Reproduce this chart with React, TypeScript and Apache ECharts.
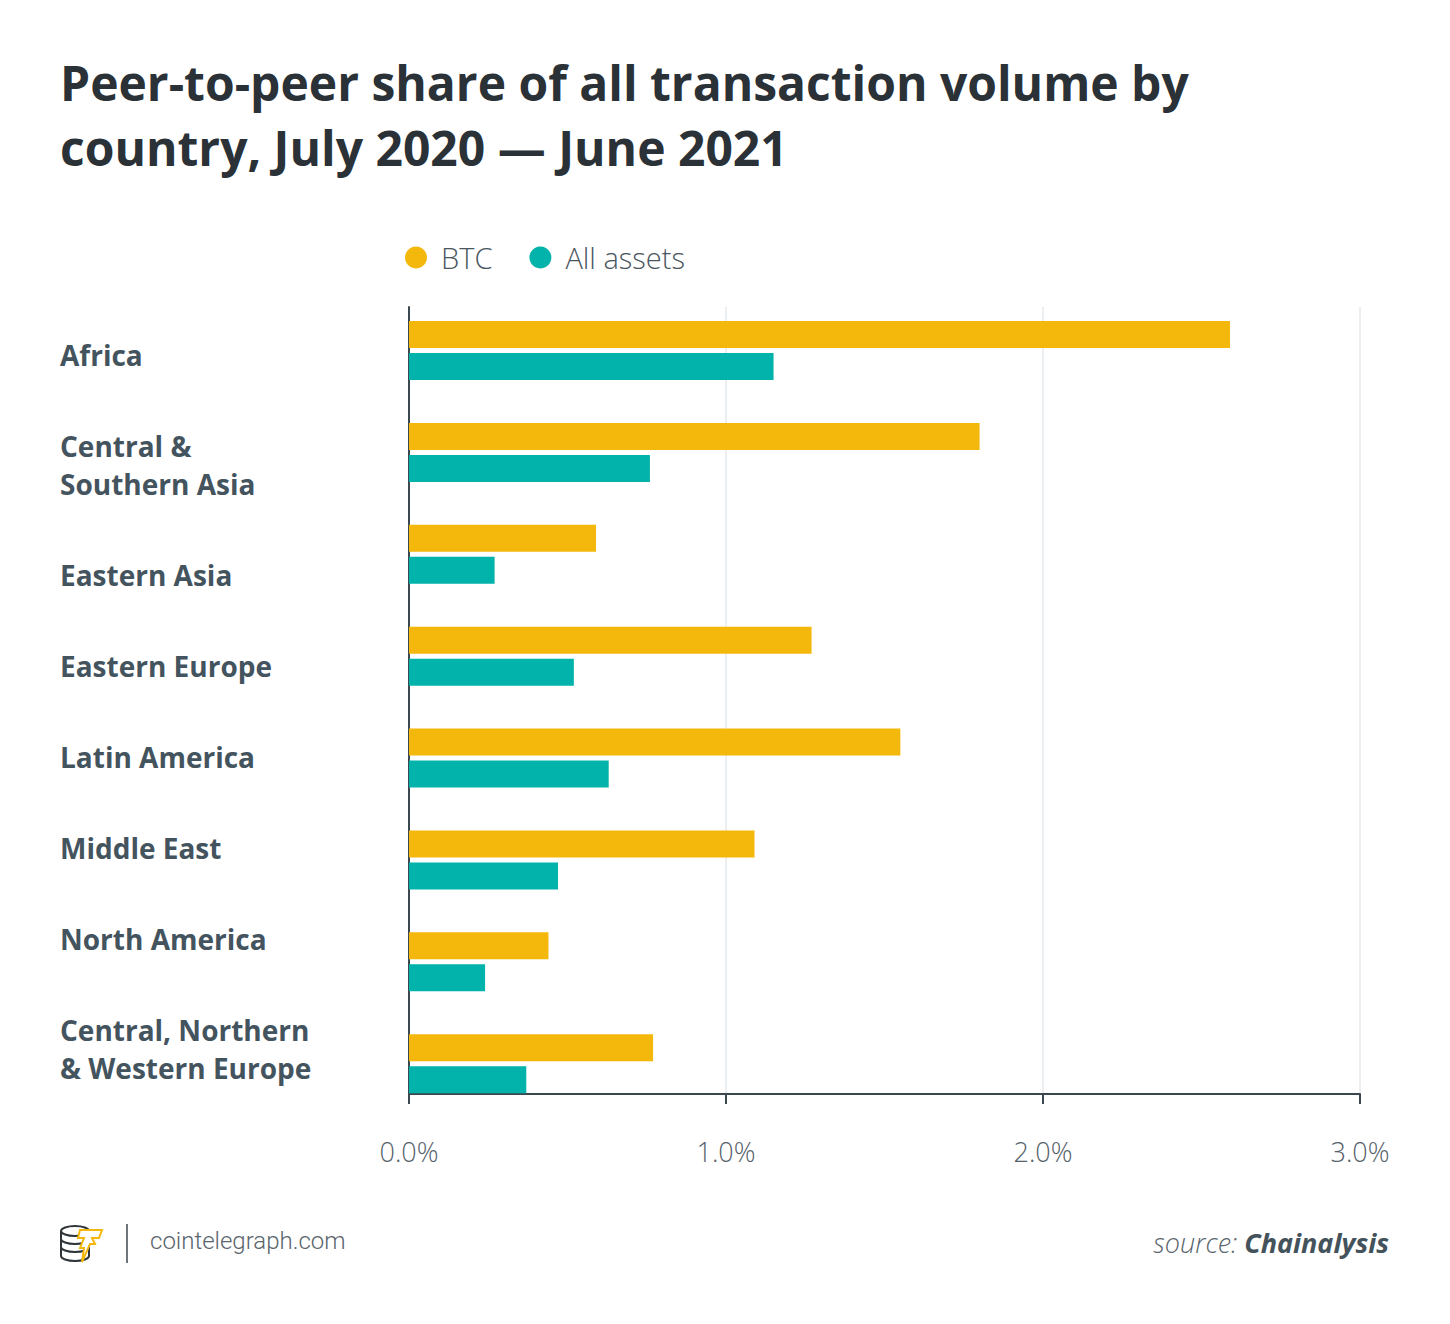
import React, { useEffect, useRef } from "react";
import * as echarts from "echarts";

// ---- data ----
const categories = [
  "Africa",
  "Central &\nSouthern Asia",
  "Eastern Asia",
  "Eastern Europe",
  "Latin America",
  "Middle East",
  "North America",
  "Central, Northern\n& Western Europe",
];
const seriesNames = ["BTC", "All assets"];
const btcValues = [2.59, 1.8, 0.59, 1.27, 1.55, 1.09, 0.44, 0.77];
const allAssetsValues = [1.15, 0.76, 0.27, 0.52, 0.63, 0.47, 0.24, 0.37];
const xMin = 0;
const xMax = 3;
const xInterval = 1;

// ---- layout constants ----
const W = 1450;
const H = 1324;
const LABEL_CENTER_Y = [356, 466, 576, 667, 758, 849, 940, 1050];
const YELLOW = "#F3B80B";
const TEAL = "#01B3AA";
const DARK = "#3b4850";

export default function App() {
  const ref = useRef<HTMLDivElement>(null);

  useEffect(() => {
    document.body.style.margin = "0";
    if (!ref.current) return;
    const chart = echarts.init(ref.current, null, { renderer: "svg" });

    const coinPath =
      "M1 6 A14 5 0 1 0 29 6 A14 5 0 1 0 1 6 M1 6 L1 31 M29 6 L29 31 M1 14 A14 5 0 0 0 29 14 M1 22 A14 5 0 0 0 29 22 M1 31 A14 5 0 0 0 29 31";
    echarts.graphic.registerShape("coinstack", echarts.graphic.extendPath(coinPath, {}) as any);

    const labelTexts = categories.map((c, i) => ({
      type: "text",
      left: 60,
      top: LABEL_CENTER_Y[i] - (c.includes("\n") ? 39 : 20),
      style: {
        text: c,
        font: "bold 28px 'Open Sans'",
        fill: "#44545e",
        lineHeight: 38,
      },
    }));

    const option: any = {
      animation: false,
      backgroundColor: "#ffffff",
      title: {
        text: "Peer-to-peer share of all transaction volume by\ncountry, July 2020 — June 2021",
        left: 55,
        top: 45,
        textStyle: {
          fontFamily: "Open Sans",
          fontSize: 48,
          fontWeight: "bold",
          color: "#2a3137",
          lineHeight: 65,
        },
      },
      legend: {
        data: seriesNames,
        left: 400,
        top: 238,
        icon: "circle",
        itemWidth: 40,
        itemHeight: 22,
        itemGap: 37,
        textStyle: {
          fontFamily: "Open Sans",
          fontSize: 29,
          fontWeight: 300,
          color: "#4a5660",
        },
      },
      grid: [
        { left: 409, right: W - 1360, top: 307, bottom: H - 1094, containLabel: false },
        { left: 409, right: W - 1360, top: 299.6, height: 815, containLabel: false },
      ],
      xAxis: [
        {
          type: "value",
          gridIndex: 0,
          min: xMin,
          max: xMax,
          interval: xInterval,
          axisLine: { show: true, lineStyle: { color: DARK, width: 2 } },
          axisTick: { show: true, length: 10, lineStyle: { color: DARK, width: 2 } },
          axisLabel: {
            margin: 44,
            fontFamily: "Open Sans",
            fontSize: 27,
            fontWeight: 300,
            color: "#56626a",
            formatter: (v: number) => v.toFixed(1) + "%",
          },
          splitLine: { show: true, lineStyle: { color: "#eceff1", width: 2 } },
        },
        {
          type: "value",
          gridIndex: 1,
          min: xMin,
          max: xMax,
          interval: xInterval,
          show: false,
          splitLine: { show: false },
        },
      ],
      yAxis: [
        {
          type: "category",
          gridIndex: 0,
          data: categories,
          inverse: true,
          axisLine: { show: true, lineStyle: { color: DARK, width: 2 } },
          axisTick: { show: false },
          axisLabel: { show: false },
          splitLine: { show: false },
        },
        {
          type: "category",
          gridIndex: 1,
          data: categories,
          inverse: true,
          show: false,
        },
      ],
      series: [
        {
          name: seriesNames[0],
          type: "bar",
          xAxisIndex: 1,
          yAxisIndex: 1,
          data: btcValues,
          barWidth: 27,
          barGap: "18.5%",
          itemStyle: { color: YELLOW },
        },
        {
          name: seriesNames[1],
          type: "bar",
          xAxisIndex: 1,
          yAxisIndex: 1,
          data: allAssetsValues,
          barWidth: 27,
          barGap: "18.5%",
          itemStyle: { color: TEAL },
        },
      ],
      graphic: [
        ...labelTexts,
        {
          type: "coinstack",
          x: 60,
          y: 1225,
          scaleX: 1,
          scaleY: 1,
          style: { fill: "none", stroke: "#2f3538", lineWidth: 2 },
        },
        {
          type: "polygon",
          shape: {
            points: [
              [80, 1230],
              [102, 1230],
              [99, 1238],
              [92, 1238],
              [95, 1244],
              [90, 1244],
              [82, 1262],
              [84, 1248],
              [80, 1248],
              [84, 1238],
              [78, 1238],
            ],
          },
          style: { fill: "#ffffff", stroke: YELLOW, lineWidth: 2 },
        },
        {
          type: "line",
          shape: { x1: 127, y1: 1224, x2: 127, y2: 1263 },
          style: { stroke: "#6f767b", lineWidth: 2 },
        },
        {
          type: "text",
          left: 150,
          top: 1229,
          style: {
            text: "cointelegraph.com",
            font: "300 24px Roboto",
            fill: "#59646c",
          },
        },
        {
          type: "text",
          right: W - 1389,
          top: 1229,
          style: {
            text: "{a|source: }{b|Chainalysis}",
            rich: {
              a: {
                fontFamily: "Open Sans",
                fontStyle: "italic",
                fontWeight: 300,
                fontSize: 27,
                fill: "#5a656d",
              },
              b: {
                fontFamily: "Open Sans",
                fontStyle: "italic",
                fontWeight: "bold",
                fontSize: 27,
                fill: "#44525c",
              },
            },
          },
        },
      ],
    };

    chart.setOption(option);
    return () => chart.dispose();
  }, []);

  return <div ref={ref} style={{ width: W, height: H, background: "#fff" }} />;
}
